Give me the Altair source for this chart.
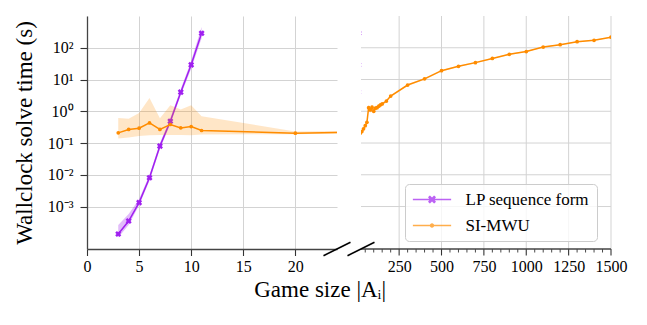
import altair as alt
import pandas as pd

# ---------------- data ----------------
lp_x = [3, 4, 5, 6, 7, 8, 9, 10, 11]
lp_y = [1.36e-4, 3.5e-4, 1.33e-3, 8.1e-3, 0.080, 0.486, 4.0, 29.0, 285.0]
lp_lo = [1.05e-4, 2.6e-4, 1.1e-3, 6.5e-3, 0.065, 0.40, 3.2, 22.0, 200.0]
lp_hi = [2.6e-4, 5.8e-4, 1.7e-3, 1.0e-2, 0.10, 0.60, 5.0, 38.0, 450.0]

si_x = [3, 4, 5, 6, 7, 8, 9, 10, 11, 20,
        30, 40, 50, 60, 70, 80, 90, 100, 110, 120, 130, 140, 150, 175, 200,
        300, 400, 500, 600, 700, 800, 900, 1000, 1100, 1200, 1300, 1400, 1500]
si_y = [0.209, 0.267, 0.293, 0.43, 0.267, 0.383, 0.30, 0.33, 0.248, 0.204,
        0.23, 0.28, 0.35, 0.45, 1.3, 1.1, 1.35, 1.0, 1.25, 1.3, 1.45, 1.6, 1.7, 2.1, 3.0,
        6.7, 10.5, 19, 26, 34, 46, 62, 76, 105, 125, 155, 172, 215]
si_lo = [0.14, 0.15, 0.165, 0.175, 0.18, 0.18, 0.18, 0.175, 0.185, 0.19,
         0.21, 0.25, 0.31, 0.40, 1.0, 0.9, 1.1, 0.85, 1.05, 1.1, 1.25, 1.4, 1.5, 1.9, 2.8,
         6.3, 9.9, 18, 25, 32, 44, 59, 73, 101, 120, 150, 166, 208]
si_hi = [0.61, 0.58, 0.88, 2.6, 0.60, 1.55, 1.13, 1.55, 0.70, 0.23,
         0.25, 0.31, 0.39, 0.50, 1.6, 1.4, 1.6, 1.25, 1.5, 1.5, 1.65, 1.8, 1.9, 2.3, 3.2,
         7.1, 11.1, 20, 27, 36, 48, 65, 79, 109, 130, 160, 178, 222]

series_names = ["LP sequence form", "SI-MWU"]

y_tick_values = [1e-3, 1e-2, 1e-1, 1e0, 1e1, 1e2]
y_tick_labels = ["10⁻³", "10⁻²", "10⁻¹", "10⁰", "10¹", "10²"]
left_x_ticks = [0, 5, 10, 15, 20]
right_x_ticks = [250, 500, 750, 1000, 1250, 1500]
right_x_minor = [v for v in range(50, 1501, 50) if v % 250 != 0]

# ---------------- styling ----------------
FONT = "Liberation Serif"
PURPLE = "#a020f0"
ORANGE = "#ff8c00"
GRID = "#d3d3d3"
W, H = 250, 233
YDOM = [4.6e-5, 1000]
LEFT_DOM = [0, 24]
RIGHT_DOM = [25, 1500]

lp_df = pd.DataFrame({"x": lp_x, "y": lp_y, "lo": lp_lo, "hi": lp_hi})
si_df = pd.DataFrame({"x": si_x, "y": si_y, "lo": si_lo, "hi": si_hi})
one = pd.DataFrame({"a": [0]})
legend_df = pd.DataFrame({"series": series_names, "x": [-1000, -1000], "y": [1.0, 1.0]})
ytick_df = pd.DataFrame({"y": y_tick_values})
major_df = pd.DataFrame({"x": right_x_ticks})
minor_df = pd.DataFrame({"x": right_x_minor})

# label expression built from the tick arrays
expr = "'" + y_tick_labels[-1] + "'"
for v, lab in reversed(list(zip(y_tick_values[:-1], y_tick_labels[:-1]))):
    expr = f"datum.value < {v * 3.16} ? '{lab}' : ({expr})"

yscale = alt.Scale(type="log", domain=YDOM)

common_axis = dict(labelFont=FONT, titleFont=FONT, labelColor="black", titleColor="black",
                   tickColor="#333333", domainColor="#444444", domainWidth=1.3, tickWidth=1.1,
                   gridColor=GRID, gridWidth=1, labelFontSize=16)

y_axis_left = alt.Axis(values=y_tick_values, labelExpr=expr, title="Wallclock solve time (s)",
                       titleFontSize=23, titleFontWeight="normal", titlePadding=11,
                       labelPadding=7, tickSize=7, grid=True, **common_axis)
x_axis_left = alt.Axis(values=left_x_ticks, title=None, grid=True, tickSize=6.5,
                       labelPadding=3, format="d", labelOverlap=False, labelFlush=False,
                       **common_axis)
# right panel: labels from the axis, grid / ticks / baseline drawn as rules on the same scales
x_axis_right = alt.Axis(values=right_x_ticks, title=None, grid=False, ticks=False, domain=False,
                        labelPadding=9.5, format="d", labelOverlap=False, labelFlush=False,
                        **common_axis)

xs_left = alt.Scale(domain=LEFT_DOM)
xs_right = alt.Scale(domain=RIGHT_DOM)


def data_layers(xs, xaxis, yaxis):
    def X():
        return alt.X("x:Q", scale=xs, axis=xaxis)

    def Y(field):
        return alt.Y(field, scale=yscale, axis=yaxis)

    return [
        alt.Chart(lp_df).mark_area(color=PURPLE, opacity=0.3, clip=True).encode(
            x=X(), y=Y("lo:Q"), y2="hi:Q"),
        alt.Chart(lp_df).mark_line(color=PURPLE, strokeWidth=1.5, clip=True).encode(
            x=X(), y=Y("y:Q")),
        alt.Chart(lp_df).mark_point(shape="cross", angle=45, filled=True, color=PURPLE,
                                    size=38, opacity=1, clip=True).encode(x=X(), y=Y("y:Q")),
        alt.Chart(si_df).mark_area(color=ORANGE, opacity=0.22, clip=True).encode(
            x=X(), y=Y("lo:Q"), y2="hi:Q"),
        alt.Chart(si_df).mark_line(color=ORANGE, strokeWidth=1.5, clip=True).encode(
            x=X(), y=Y("y:Q")),
        alt.Chart(si_df).mark_point(shape="circle", filled=True, color=ORANGE,
                                    size=14, opacity=1, clip=True).encode(x=X(), y=Y("y:Q")),
    ]


# break marks (decorative diagonal slashes at the axis break)
left_break = alt.Chart(one).mark_rule(color="black", strokeWidth=1.6).encode(
    x=alt.value(W - 13.5), x2=alt.value(W + 13.5), y=alt.value(H + 6.7), y2=alt.value(H - 6.7))
right_break = alt.Chart(one).mark_rule(color="black", strokeWidth=1.6).encode(
    x=alt.value(-13.5), x2=alt.value(13.5), y=alt.value(H + 6.7), y2=alt.value(H - 6.7))

# right-panel guides
r_xgrid = alt.Chart(major_df).mark_rule(color=GRID, strokeWidth=1).encode(
    x=alt.X("x:Q", scale=xs_right, axis=x_axis_right), y=alt.value(0), y2=alt.value(H))
r_ygrid = alt.Chart(ytick_df).mark_rule(color=GRID, strokeWidth=1).encode(
    y=alt.Y("y:Q", scale=yscale, axis=None), x=alt.value(0), x2=alt.value(W))
r_major = alt.Chart(major_df).mark_rule(color="#333333", strokeWidth=1.1).encode(
    x=alt.X("x:Q", scale=xs_right, axis=x_axis_right), y=alt.value(H), y2=alt.value(H + 6.5))
r_minor = alt.Chart(minor_df).mark_rule(color="#333333", strokeWidth=0.9).encode(
    x=alt.X("x:Q", scale=xs_right, axis=x_axis_right), y=alt.value(H), y2=alt.value(H + 3.5))
r_base = alt.Chart(one).mark_rule(color="#444444", strokeWidth=1.3).encode(
    x=alt.value(0), x2=alt.value(W), y=alt.value(H))

# legend-only layer (points placed outside the visible domain and clipped)
legend_paths = [
    "M-2.55,0H2.55M-0.42,-0.42L0.42,0.42M-0.42,0.42L0.42,-0.42"
    "M-0.34,-0.46L0.46,0.34M-0.46,-0.34L0.34,0.46M-0.34,0.46L0.46,-0.34M-0.46,0.34L0.34,-0.46",
    "M-2.55,0H2.55M0.2,0A0.2,0.2 0 1 1 -0.2,0A0.2,0.2 0 1 1 0.2,0"
    "M0.08,0A0.08,0.08 0 1 1 -0.08,0A0.08,0.08 0 1 1 0.08,0",
]
leg = alt.Legend(title=None, orient="none", legendX=44, legendY=168, padding=7,
                 fillColor="rgba(255,255,255,0.8)", strokeColor="#cccccc", cornerRadius=4,
                 labelFont=FONT, labelFontSize=17, symbolSize=225, symbolStrokeWidth=1.5,
                 symbolOffset=11.5, labelOffset=25, rowPadding=8)
legend_layer = alt.Chart(legend_df).mark_point(filled=False, clip=True, strokeWidth=1.5).encode(
    x=alt.X("x:Q", scale=xs_right, axis=x_axis_right),
    y=alt.Y("y:Q", scale=yscale, axis=None),
    color=alt.Color("series:N", scale=alt.Scale(domain=series_names, range=[PURPLE, ORANGE]), legend=leg),
    shape=alt.Shape("series:N", scale=alt.Scale(domain=series_names, range=legend_paths), legend=leg),
)

left = alt.layer(*data_layers(xs_left, x_axis_left, y_axis_left), left_break).properties(
    width=W, height=H)
right = alt.layer(r_xgrid, r_ygrid, *data_layers(xs_right, x_axis_right, None),
                  r_major, r_minor, r_base, right_break, legend_layer).properties(width=W, height=H)

chart = alt.hconcat(left, right, spacing=24, bounds="flush").resolve_scale(
    color="independent", shape="independent").resolve_legend(
    color="independent", shape="independent").properties(
    title=alt.TitleParams("Game size |Aᵢ|", orient="bottom", anchor="middle", dx=0,
                          fontSize=23, font=FONT, fontWeight="normal", color="black", offset=4),
    padding={"left": 5, "top": 7, "right": 5, "bottom": 5},
    background="white",
).configure(font=FONT).configure_view(stroke=None)

chart.save("out.html", embed_options={"renderer": "svg", "actions": False})
